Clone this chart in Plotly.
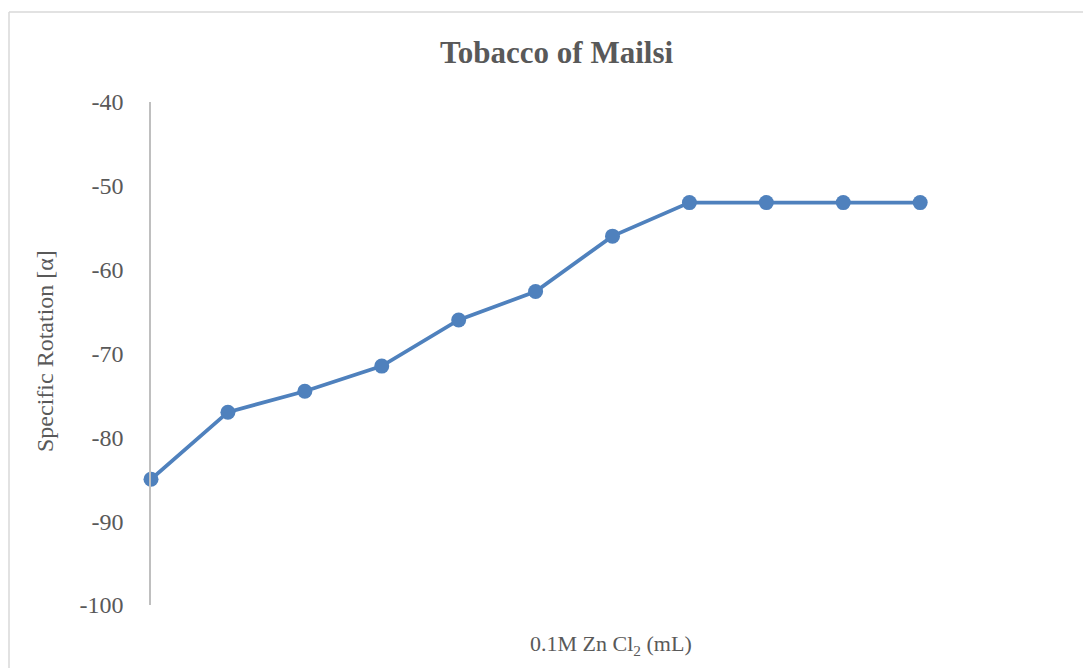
import plotly.graph_objects as go

x_vals = [0, 1, 2, 3, 4, 5, 6, 7, 8, 9, 10]
rotation = [-85, -77, -74.5, -71.5, -66, -62.6, -56, -52, -52, -52, -52]
y_ticks = [-100, -90, -80, -70, -60, -50, -40]
y_tick_labels = ["-100", "-90", "-80", "-70", "-60", "-50", "-40"]

W, H = 1091, 668
OFF = 8  # page body margin
L, R, T, B = 151 - OFF, 17 + OFF, 102 - OFF, 63 + OFF
pw = W - L - R
ph = H - T - B

def px_x(p):
    return (p - OFF - L) / pw

def px_y(p):
    return (H - B - (p - OFF)) / ph

fig = go.Figure()
fig.add_trace(go.Scatter(
    x=x_vals, y=rotation, mode="lines+markers",
    line=dict(color="#4F81BD", width=3.8),
    marker=dict(color="#4F81BD", size=15),
    cliponaxis=False,
    showlegend=False, hoverinfo="skip",
))

font = "Liberation Serif, Times New Roman, serif"
fig.update_layout(
    width=W, height=H,
    margin=dict(l=L, r=R, t=T, b=B),
    paper_bgcolor="white", plot_bgcolor="white",
    font=dict(family=font, color="#595959", size=20),
    xaxis=dict(range=[0, 12], showticklabels=False, showgrid=False,
               zeroline=False, showline=False, ticks=""),
    yaxis=dict(range=[-100, -40], tickvals=y_ticks, ticktext=y_tick_labels,
               showgrid=False, zeroline=False, showline=True,
               linecolor="#BFBFBF", linewidth=1.5,
               ticks="", ticklabelstandoff=21,
               tickfont=dict(family=font, size=24, color="#595959")),
    shapes=[
        dict(type="line", xref="paper", yref="paper",
             x0=px_x(9), x1=px_x(9), y0=px_y(12), y1=px_y(700),
             line=dict(color="#D9D9D9", width=1.5)),
        dict(type="line", xref="paper", yref="paper",
             x0=px_x(9), x1=px_x(1100), y0=px_y(12), y1=px_y(12),
             line=dict(color="#D9D9D9", width=1.5)),
    ],
    annotations=[
        dict(text="<b>Tobacco of Mailsi</b>", xref="paper", yref="paper",
             x=px_x(556), y=px_y(52), xanchor="center", yanchor="middle",
             showarrow=False, font=dict(family=font, size=31, color="#595959")),
        dict(text="Specific Rotation [α]", xref="paper", yref="paper",
             x=px_x(45), y=px_y(351), xanchor="center", yanchor="middle",
             textangle=-90, showarrow=False,
             font=dict(family=font, size=24, color="#595959")),
        dict(text="0.1M Zn Cl<sub>2</sub> (mL)", xref="paper", yref="paper",
             x=px_x(611), y=px_y(645), xanchor="center", yanchor="middle",
             showarrow=False, font=dict(family=font, size=22, color="#595959")),
    ],
)

fig.write_html("out.html")
